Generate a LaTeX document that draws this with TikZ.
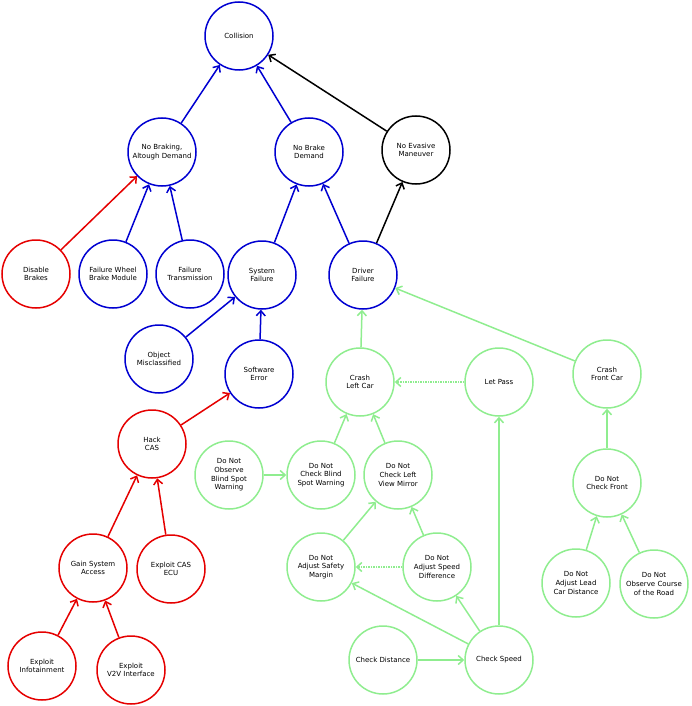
\documentclass[tikz,border=0pt]{standalone}
\usepackage{fontspec}
\setmainfont{DejaVu Sans}
\usetikzlibrary{arrows.meta}
\definecolor{SafeClr}{rgb}{0,0,0.82}
\definecolor{AttackClr}{rgb}{0.9,0,0}
\definecolor{DriverClr}{rgb}{0.56,0.93,0.56}

\tikzset{
  event/.style={circle,draw,line width=1.5pt,minimum size=68pt,inner sep=0pt,
    align=center,font=\fontsize{7}{8.7}\selectfont},
  safe/.style={event,draw=SafeClr},
  attack/.style={event,draw=AttackClr},
  human/.style={event,draw=DriverClr},
  plain/.style={event,draw=black},
  link/.style={-{Straight Barb[length=5pt,width=9pt]},line width=1.5pt},
}

\begin{document}
\begin{tikzpicture}[x=1pt,y=-1pt]
\useasboundingbox (0,0) rectangle (691,706);

% Top of the tree.
\node[safe] (col) at (239,36) {Collision};
\node[safe] (nbr) at (162,152) {No Braking,\\Altough Demand};
\node[safe] (nbd) at (309,152) {No Brake\\Demand};
\node[plain] (nev) at (416,150) {No Evasive\\Maneuver};

% Second row.
\node[attack] (dis) at (36,274) {Disable\\Brakes};
\node[safe] (fwb) at (113,274) {Failure Wheel\\Brake Module};
\node[safe] (ftr) at (190,274) {Failure\\Transmission};
\node[safe] (sys) at (262,275) {System\\Failure};
\node[safe] (drv) at (363,275) {Driver\\Failure};

% System failure causes and the attack path.
\node[safe] (obj) at (159,359) {Object\\Misclassified};
\node[safe] (sw) at (259,374) {Software\\Error};
\node[attack] (hack) at (152,444) {Hack\\CAS};
\node[attack] (gain) at (93,568) {Gain System\\Access};
\node[attack] (ecu) at (171,569) {Exploit CAS\\ECU};
\node[attack] (inf) at (42,666) {Exploit\\Infotainment};
\node[attack] (v2v) at (131,670) {Exploit\\V2V Interface};

% Driver failure causes.
\node[human] (cl) at (360,382) {Crash\\Left Car};
\node[human] (lp) at (499,382) {Let Pass};
\node[human] (cf) at (607,374) {Crash\\Front Car};
\node[human] (obs) at (229,475) {Do Not\\Observe\\Blind Spot\\Warning};
\node[human] (cbs) at (321,475) {Do Not\\Check Blind\\Spot Warning};
\node[human] (clv) at (398,475) {Do Not\\Check Left\\View Mirror};
\node[human] (cfr) at (607,483) {Do Not\\Check Front};
\node[human] (asm) at (321,567) {Do Not\\Adjust Safety\\Margin};
\node[human] (asd) at (437,567) {Do Not\\Adjust Speed\\Difference};
\node[human] (alc) at (576,583) {Do Not\\Adjust Lead\\Car Distance};
\node[human] (ocr) at (654,584) {Do Not\\Observe Course\\of the Road};
\node[human] (cd) at (383,660) {Check Distance};
\node[human] (cs) at (499,660) {Check Speed};

% Connectors.
\draw[link,SafeClr] (nbr) -- (col);
\draw[link,SafeClr] (nbd) -- (col);
\draw[link,black] (nev) -- (col);
\draw[link,AttackClr] (dis) -- (nbr);
\draw[link,SafeClr] (fwb) -- (nbr);
\draw[link,SafeClr] (ftr) -- (nbr);
\draw[link,SafeClr] (sys) -- (nbd);
\draw[link,SafeClr] (drv) -- (nbd);
\draw[link,black] (drv) -- (nev);
\draw[link,SafeClr] (obj) -- (sys);
\draw[link,SafeClr] (sw) -- (sys);
\draw[link,AttackClr] (hack) -- (sw);
\draw[link,AttackClr] (gain) -- (hack);
\draw[link,AttackClr] (ecu) -- (hack);
\draw[link,AttackClr] (inf) -- (gain);
\draw[link,AttackClr] (v2v) -- (gain);

\draw[link,DriverClr] (cl) -- (drv);
\draw[link,DriverClr] (cf) -- (drv);
\draw[link,DriverClr,densely dotted] (lp) -- (cl);
\draw[link,DriverClr] (cbs) -- (cl);
\draw[link,DriverClr] (clv) -- (cl);
\draw[link,DriverClr] (obs) -- (cbs);
\draw[link,DriverClr] (asm) -- (clv);
\draw[link,DriverClr] (asd) -- (clv);
\draw[link,DriverClr,densely dotted] (asd) -- (asm);
\draw[link,DriverClr] (cs) -- (asm);
\draw[link,DriverClr] (cs) -- (asd);
\draw[link,DriverClr] (cs) -- (lp);
\draw[link,DriverClr] (cd) -- (cs);
\draw[link,DriverClr] (cfr) -- (cf);
\draw[link,DriverClr] (alc) -- (cfr);
\draw[link,DriverClr] (ocr) -- (cfr);

\end{tikzpicture}
\end{document}
